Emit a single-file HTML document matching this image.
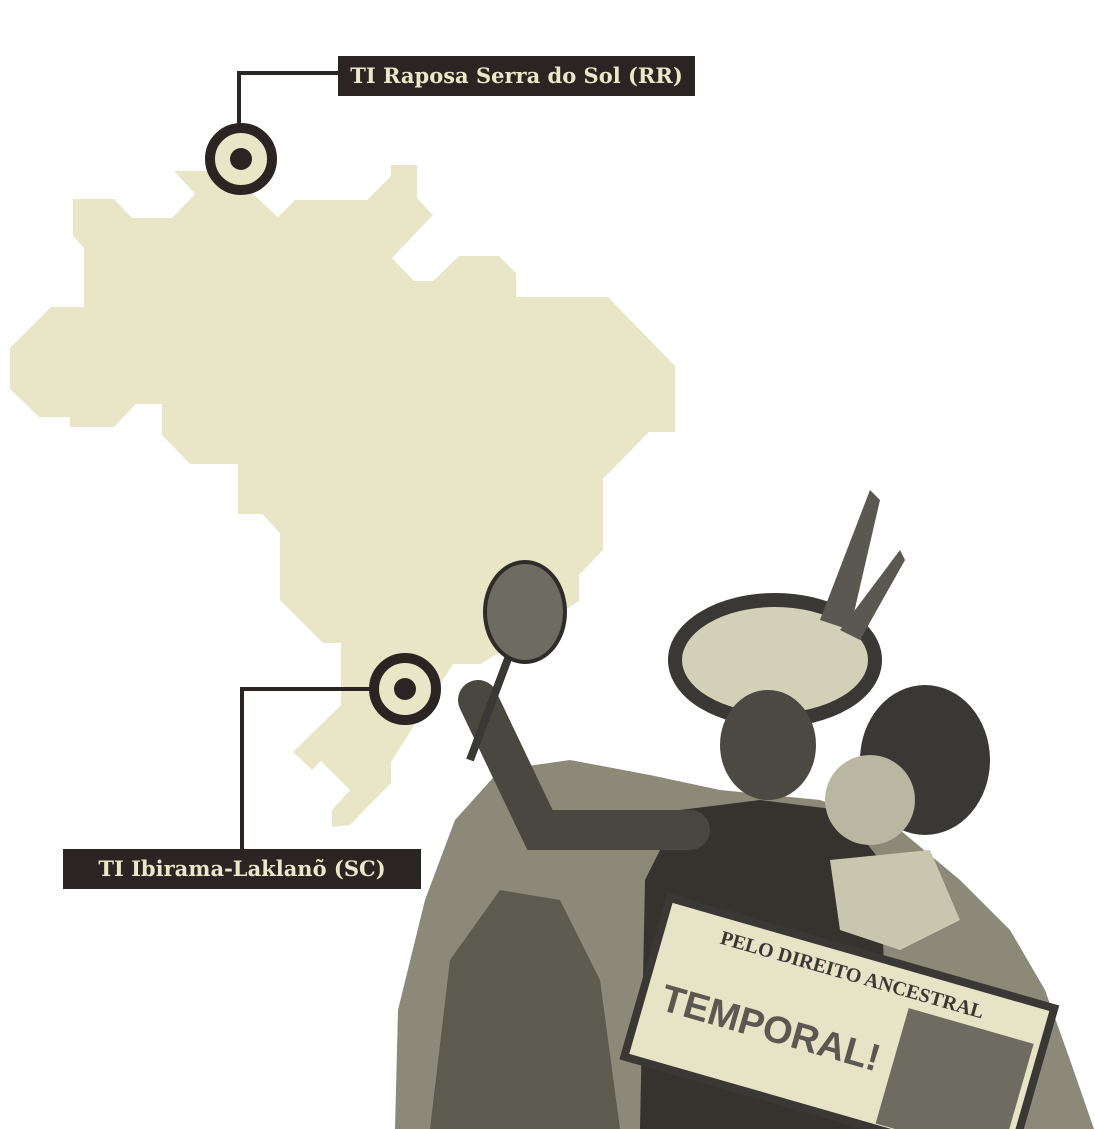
<!DOCTYPE html>
<html><head><meta charset="utf-8"><style>
html,body{margin:0;padding:0;background:#fff;}
body{width:1094px;height:1129px;position:relative;overflow:hidden;}
.lbl{position:absolute;background:#2a2522;color:#ebe7c9;font-family:"DejaVu Serif","Liberation Serif",serif;font-weight:bold;font-size:21px;line-height:40px;white-space:nowrap;}
</style></head><body>
<svg width="1094" height="1129" style="position:absolute;left:0;top:0">
<polygon fill="#e9e6c8" points="73,199 114,199 132,218 172,218 195,194 174,171 229,171 253,194 278,217 295,200 367,200 391,176 391,165 417,165 417,198 433,215 392,258 414,281 433,281 459,256 499,256 516,273 516,297 608,297 675,366 675,432 649,432 603,479 603,550 579,575 579,601 481,664 453,664 391,762 391,783 350,825 332,827 332,810 350,790 321,761 312,770 293,752 341,705 341,643 323,643 280,600 280,533 262,514 238,514 238,464 190,464 162,435 162,404 136,404 114,427 70,427 70,417 39,417 10,389 10,348 51,307 84,307 84,248 73,236"/>
<!-- photo approximation -->
<polygon fill="#8c8979" points="395,1129 398,1010 425,900 455,820 500,770 570,760 650,775 720,790 820,800 900,830 960,880 1010,930 1045,990 1070,1060 1094,1129"/>
<polygon fill="#5d5a50" points="430,1129 450,960 500,890 560,900 600,980 620,1129"/>
<polygon fill="#35332e" points="640,1129 645,880 680,810 760,800 840,810 880,860 890,1129"/>
<path d="M478,700 L540,830 L690,830" stroke="#4a4740" stroke-width="40" fill="none" stroke-linecap="round"/>
<line x1="470" y1="760" x2="515" y2="640" stroke="#3a3834" stroke-width="8"/>
<ellipse cx="525" cy="612" rx="40" ry="50" fill="#6e6b60" stroke="#2e2c28" stroke-width="4"/>
<ellipse cx="775" cy="660" rx="100" ry="60" fill="#d3d0b8" stroke="#3a3834" stroke-width="14"/>
<polygon fill="#5a5850" points="820,620 870,490 880,500 850,630"/>
<polygon fill="#5a5850" points="840,630 900,550 905,560 860,640"/>
<ellipse cx="768" cy="745" rx="48" ry="55" fill="#4c4943"/>
<ellipse cx="925" cy="760" rx="65" ry="75" fill="#3a3834"/>
<ellipse cx="870" cy="800" rx="45" ry="45" fill="#b9b6a2"/>
<polygon fill="#c9c6b0" points="830,860 930,850 960,920 900,950 840,930"/>
<g transform="rotate(16 840 1030)">
<rect x="640" y="950" width="400" height="165" fill="#e6e3c6" stroke="#3a3834" stroke-width="8"/>
<text x="700" y="980" font-family="Liberation Serif,serif" font-weight="bold" font-size="20" fill="#3a3834">PELO DIREITO ANCESTRAL</text>
<text x="660" y="1060" font-family="Liberation Sans,sans-serif" font-weight="bold" font-size="38" fill="#5a5850">TEMPORAL!</text>
<rect x="900" y="990" width="130" height="120" fill="#6e6b60"/>
</g>
<!-- connectors -->
<polyline points="239,158 239,73 340,73" fill="none" stroke="#2a2522" stroke-width="4"/>
<polyline points="372,689 242,689 242,852" fill="none" stroke="#2a2522" stroke-width="4"/>
<circle cx="241" cy="159" r="31" fill="#e9e6c8" stroke="#2a2522" stroke-width="10"/>
<circle cx="241" cy="159" r="11" fill="#2a2522"/>
<circle cx="405" cy="689" r="31" fill="#e9e6c8" stroke="#2a2522" stroke-width="10"/>
<circle cx="405" cy="689" r="11" fill="#2a2522"/>
</svg>
<div class="lbl" style="left:338px;top:56px;width:357px;padding-left:0;text-align:center;">TI Raposa Serra do Sol (RR)</div>
<div class="lbl" style="left:63px;top:849px;width:358px;text-align:center;">TI Ibirama-Laklanõ (SC)</div>
</body></html>
